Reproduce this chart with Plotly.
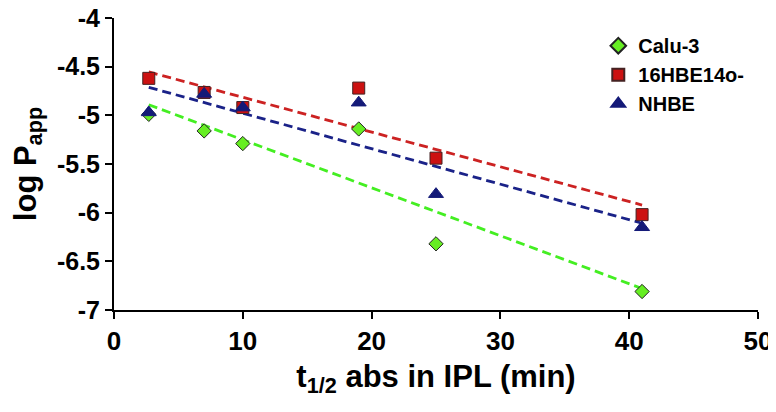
import numpy as np
import plotly.graph_objects as go

series_names = ["Calu-3", "16HBE14o-", "NHBE"]
x_vals = [2.7, 7, 10, 19, 25, 41]
calu3 = [-4.99, -5.16, -5.29, -5.14, -6.32, -6.81]
hbe = [-4.62, -4.765, -4.92, -4.72, -5.44, -6.02]
nhbe = [-4.97, -4.78, -4.92, -4.87, -5.81, -6.15]
x_ticks = [0, 10, 20, 30, 40, 50]
y_ticks = [-7, -6.5, -6, -5.5, -5, -4.5, -4]

FONT = "Liberation Sans, Arial, sans-serif"

marker_styles = [
    dict(symbol="diamond", color="#66ee22", size=11, line=dict(color="#222222", width=1)),
    dict(symbol="square", color="#cc1111", size=12, line=dict(color="#442222", width=1)),
    dict(symbol="triangle-up", color="#141a78", size=13, line=dict(color="#141a78", width=1)),
]
line_colors = ["#44ee22", "#cc2222", "#1a2288"]

fig = go.Figure()
all_y = [calu3, hbe, nhbe]
for ys, col in zip(all_y, line_colors):
    slope, icpt = np.polyfit(x_vals, ys, 1)
    xs = [min(x_vals), max(x_vals)]
    fig.add_trace(go.Scatter(x=xs, y=[slope * v + icpt for v in xs], mode="lines",
                             line=dict(color=col, width=2.8, dash="9px,5px"),
                             showlegend=False, hoverinfo="skip"))
for name, ys, ms in zip(series_names, all_y, marker_styles):
    fig.add_trace(go.Scatter(x=x_vals, y=ys, mode="markers", name=name, marker=ms))

# page body has an 8px default margin, so the figure is sized/offset to compensate
fig.update_layout(
    width=768, height=404,
    margin=dict(l=106, r=18, t=10, b=102),
    plot_bgcolor="white", paper_bgcolor="white",
    font=dict(family=FONT, size=21, color="black"),
    legend=dict(x=0.752, y=0.972, xanchor="left", yanchor="top",
                font=dict(family=FONT, size=20, color="black", weight="bold"),
                bgcolor="rgba(0,0,0,0)", itemsizing="constant", tracegroupgap=0),
    showlegend=True,
)
fig.update_xaxes(range=[0, 50], tickvals=x_ticks, ticktext=[f"<b>{t}</b>" for t in x_ticks],
                 automargin=False, ticklabeloverflow="allow",
                 showgrid=False, zeroline=False, showline=True, linecolor="black", linewidth=2,
                 ticks="outside", ticklen=7, tickwidth=2, tickcolor="black",
                 tickfont=dict(size=26, family=FONT),
                 title=dict(text="<b>t<sub>1/2</sub> abs in IPL (min)</b>", font=dict(size=31, family=FONT), standoff=10))
fig.update_yaxes(range=[-7, -4], tickvals=y_ticks, ticktext=[f"<b>{t:g}</b>" for t in y_ticks],
                 automargin=False, ticklabeloverflow="allow",
                 showgrid=False, zeroline=False, showline=True, linecolor="black", linewidth=2,
                 ticks="outside", ticklen=7, tickwidth=2, tickcolor="black",
                 tickfont=dict(size=25, family=FONT),
                 title=dict(text="<b>log P<sub>app</sub></b>", font=dict(size=31, family=FONT), standoff=24))

fig.write_html("out.html")
